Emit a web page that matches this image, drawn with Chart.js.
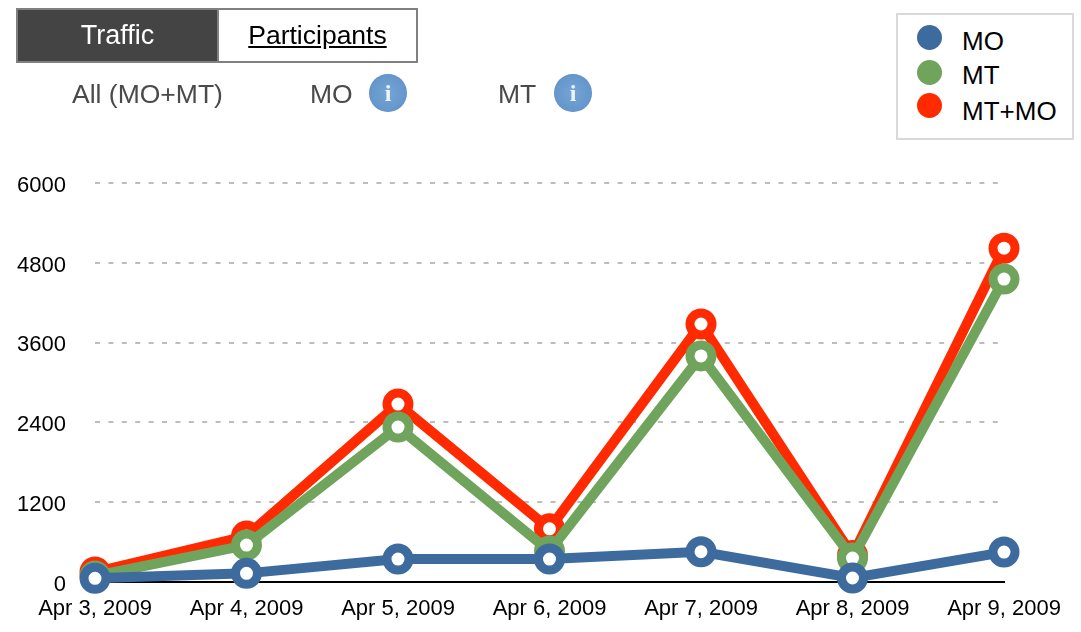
<!DOCTYPE html>
<html>
<head>
<meta charset="utf-8">
<title>Traffic</title>
<script src="https://cdn.jsdelivr.net/npm/chart.js@4"></script>
<style>
html, body { margin: 0; padding: 0; background: #fff; }
body { width: 1081px; height: 632px; position: relative; overflow: hidden; font-family: "Liberation Sans", sans-serif; }
#ov { position: absolute; left: 0; top: 0; }
.tabs { position: absolute; left: 16px; top: 8px; width: 398px; height: 51px; border: 2px solid #808080; display: flex; font-size: 26.5px; }
.tab { height: 51px; line-height: 50px; text-align: center; box-sizing: border-box; }
.tab.on { width: 201px; background: #444; color: #fff; border-right: 2px solid #808080; font-size: 27px; }
.tab.off { width: 197px; color: #000; text-decoration: underline; }
.sub { position: absolute; top: 78px; line-height: 32px; font-size: 26.5px; color: #4a4a4a; }
.info { position: absolute; top: 74px; width: 38px; height: 38px; border-radius: 50%; background: radial-gradient(circle, #76a4d4 0%, #6597cc 66%, #3f78b5 80%, #7da8d2 90%, #c5d7ea 100%); box-sizing: border-box; color: #eef4fa; font: bold 24px/39px "Liberation Serif", serif; text-align: center; }
#legend { position: absolute; left: 896px; top: 13px; width: 178px; height: 127px; box-sizing: border-box; border: 2px solid #d9d9d9; background: #fff; font-size: 26px; color: #000; }
#legend .row { position: absolute; left: 0; height: 30px; line-height: 30px; white-space: nowrap; }
#legend .dot { position: absolute; left: 19px; width: 25px; height: 25px; border-radius: 50%; }
#legend .lab { position: absolute; left: 64px; top: 0; }
</style>
</head>
<body>
<canvas id="ov" width="1081" height="632"></canvas>
<div class="tabs"><div class="tab on">Traffic</div><div class="tab off">Participants</div></div>
<div class="sub" style="left:72px">All (MO+MT)</div>
<div class="sub" style="left:310px">MO</div>
<div class="info" style="left:369px">i</div>
<div class="sub" style="left:498px">MT</div>
<div class="info" style="left:554px">i</div>
<div id="legend"></div>
<script>
let dateArr = ["Apr 3, 2009","Apr 4, 2009","Apr 5, 2009","Apr 6, 2009","Apr 7, 2009","Apr 8, 2009","Apr 9, 2009"];
let moArr = [55,130,345,345,455,60,450];
let mtArr = [90,555,2330,465,3400,360,4555];
let allArr = [150,690,2675,800,3880,400,5020];
let seriesNames = ["MO","MT","MT+MO"];
let seriesColors = ["#3d6b9e","#70a35b","#ff2a00"];
let yTicks = [0,1200,2400,3600,4800,6000];

function lineSet(i, values) {
    return {
        label: seriesNames[i],
        data: values,
        borderColor: seriesColors[i],
        backgroundColor: "#fff",
        borderWidth: 10,
        tension: 0,
        fill: false,
        pointRadius: 11,
        pointBorderWidth: 9,
        pointBorderColor: seriesColors[i],
        pointBackgroundColor: "#fff",
        clip: false
    };
}

let ctx = document.getElementById('ov').getContext('2d');
let myChart = new Chart(ctx, {
    type: 'line',
    data: {
        labels: dateArr,
        datasets: [lineSet(0, moArr), lineSet(1, mtArr), lineSet(2, allArr)]
    },
    options: {
        responsive: false,
        animation: false,
        layout: { padding: { top: 183, right: 77, left: 0, bottom: 0 } },
        plugins: { legend: { display: false }, tooltip: { enabled: false } },
        scales: {
            y: {
                min: 0,
                max: 6000,
                afterBuildTicks: function(axis) { axis.ticks = yTicks.map(function(v) { return { value: v }; }); },
                afterFit: function(axis) { axis.width = 95; },
                grid: {
                    drawTicks: false,
                    lineWidth: 2,
                    color: function(c) { return c.tick && c.tick.value === 0 ? "rgba(0,0,0,0)" : "#bdbdbd"; }
                },
                border: { display: false, dash: [5, 8.4] },
                ticks: {
                    padding: 29,
                    color: "#000",
                    font: { family: "Liberation Sans", size: 22, lineHeight: 0.25 },
                    // blank first line nudges the label down a little, like the original
                    callback: function(v) { return ["", String(v)]; }
                }
            },
            x: {
                offset: false,
                afterFit: function(axis) { axis.height = 50; },
                grid: { display: false, drawTicks: false },
                border: { display: true, color: "#000", width: 2 },
                ticks: {
                    autoSkip: false,
                    maxRotation: 0,
                    padding: 14,
                    color: "#000",
                    font: { family: "Liberation Sans", size: 22 }
                }
            }
        }
    }
});

// legend box built from the same series lists
let legendEl = document.getElementById('legend');
let rowTops = [11, 45, 81];
let dotTops = [-1, 0, -3];
seriesNames.forEach(function(name, i) {
    let row = document.createElement('div');
    row.className = 'row';
    row.style.top = rowTops[i] + 'px';
    row.innerHTML = '<span class="dot" style="top:' + dotTops[i] + 'px;background:' + seriesColors[i] + '"></span><span class="lab">' + name + '</span>';
    legendEl.appendChild(row);
});
</script>
</body>
</html>
